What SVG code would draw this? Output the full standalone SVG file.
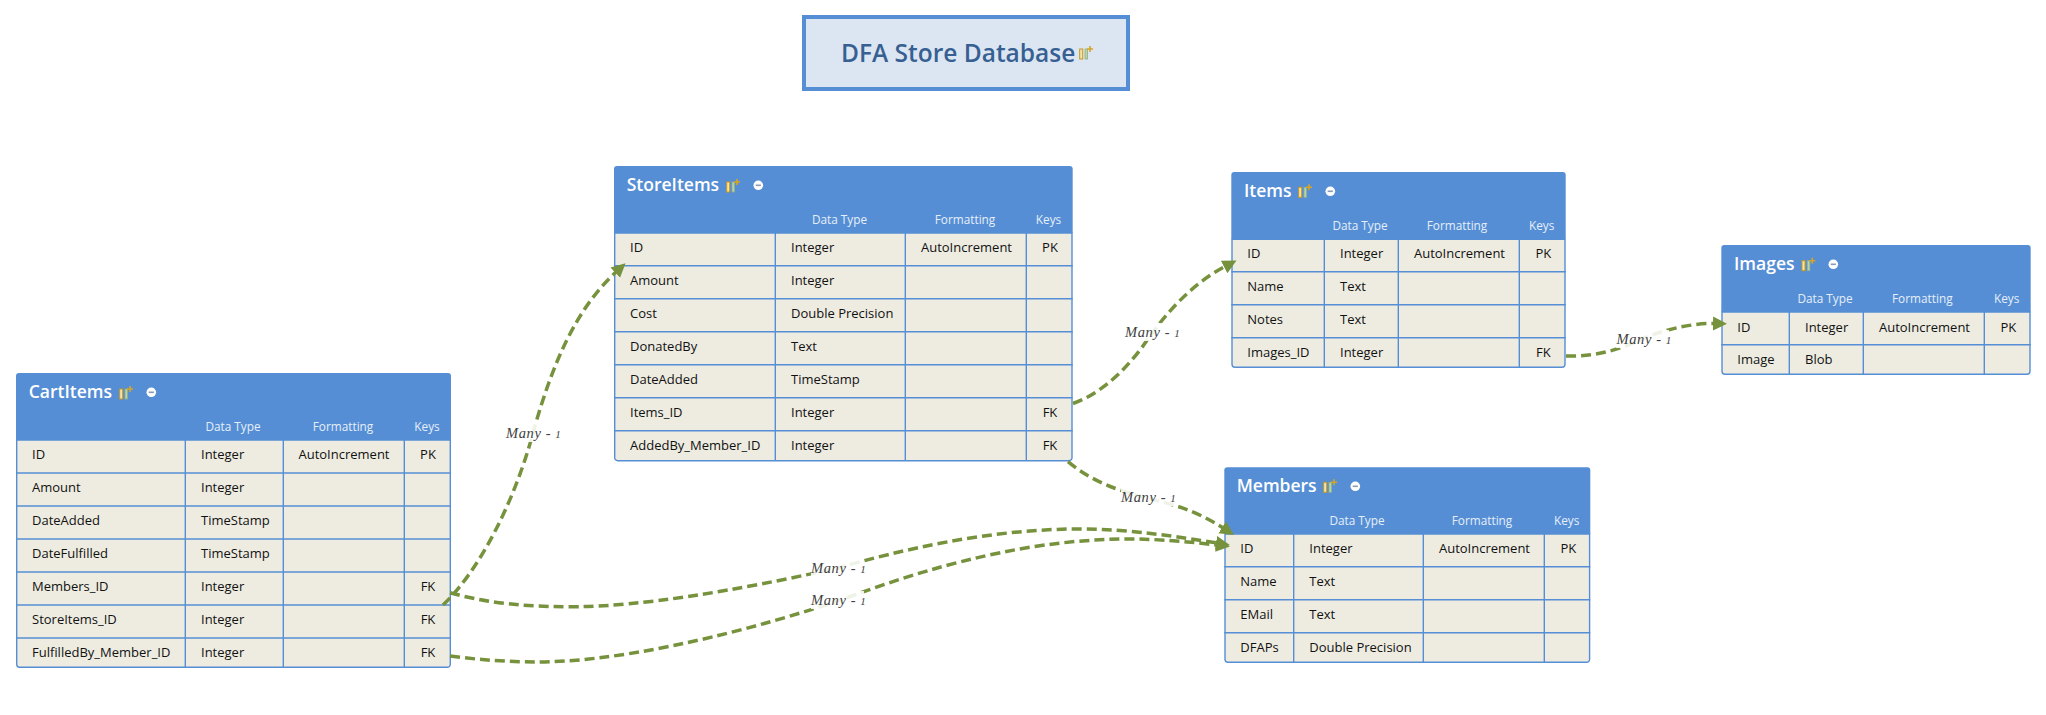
<svg xmlns="http://www.w3.org/2000/svg" width="2046" height="715" viewBox="0 0 2046 715">
<style>
text{font-family:"Open Sans","Noto Sans","Liberation Sans",sans-serif}
.head{fill:#558ed5}
.body{fill:#eeece1;stroke:#558ed5;stroke-width:1.4}
.grid{fill:none;stroke:#558ed5;stroke-width:1.4}
.n{font-size:17.5px;font-weight:600;fill:#fff}
.h{font-size:11.8px;fill:#e6eef8;text-anchor:middle}
.c{font-size:13px;fill:#111}
.m{font-size:13px;fill:#111;text-anchor:middle}
.link{fill:none;stroke:#76923c;stroke-width:3.5;stroke-dasharray:10 5}
.lab{font-family:"Liberation Serif",serif;font-style:italic;font-size:14.5px;fill:#404040;letter-spacing:.6px}
.bg{fill:#fff;fill-opacity:.88}
</style>
<defs>
<marker id="arrow" markerUnits="userSpaceOnUse" markerWidth="15" markerHeight="16" refX="1" refY="7.5" orient="auto"><path d="M0,0.5 L14,7.5 L0,14.5 Z" fill="#76923c"/></marker>
<g id="ico">
<rect x="0.7" y="3" width="3" height="10" fill="#f5e6a8" stroke="#c8961e"/>
<rect x="6" y="3" width="2.6" height="10" fill="#b7d3a8" stroke="#8fb08a" stroke-width=".8"/>
<path d="M11,0 v6 M8,3 h6" stroke="#d9a520" stroke-width="1.6" fill="none"/>
</g>
<g id="min"><circle r="4.8" fill="#fff"/><path d="M-2.6,0 h5.2" stroke="#8a9bb5" stroke-width="1.6"/></g>
</defs>

<g id="title">
<rect x="804" y="17" width="324" height="72" fill="#dce6f2" stroke="#558ed5" stroke-width="4"/>
<text x="841" y="62" font-size="24.5" font-weight="600" fill="#376092">DFA Store Database</text>
<use href="#ico" x="1079" y="46"/>
</g>

<g id="CartItems">
<path class="head" d="M16,440 V376 a3,3 0 0 1 3,-3 H448 a3,3 0 0 1 3,3 V440 Z"/>
<path class="body" d="M16.7,440 H450.3 V664.3 a3,3 0 0 1 -3,3 H19.7 a3,3 0 0 1 -3,-3 Z"/>
<path class="grid" d="M16,473 H451 M16,506 H451 M16,539 H451 M16,572 H451 M16,605 H451 M16,638 H451 M185.3,440 V667 M283.3,440 V667 M404.3,440 V667"/>
<text class="n" x="28.7" y="398">CartItems</text>
<use href="#ico" x="119" y="386"/><use href="#min" x="151.3" y="392.3"/>
<text class="h" x="233" y="431">Data Type</text><text class="h" x="343" y="431">Formatting</text><text class="h" x="427" y="431">Keys</text>
<text class="c" x="32" y="459.3">ID</text><text class="c" x="201" y="459.3">Integer</text><text class="m" x="344" y="459.3">AutoIncrement</text><text class="m" x="428" y="459.3">PK</text>
<text class="c" x="32" y="492.3">Amount</text><text class="c" x="201" y="492.3">Integer</text>
<text class="c" x="32" y="525.3">DateAdded</text><text class="c" x="201" y="525.3">TimeStamp</text>
<text class="c" x="32" y="558.3">DateFulfilled</text><text class="c" x="201" y="558.3">TimeStamp</text>
<text class="c" x="32" y="591.3">Members_ID</text><text class="c" x="201" y="591.3">Integer</text><text class="m" x="428" y="591.3">FK</text>
<text class="c" x="32" y="624.3">StoreItems_ID</text><text class="c" x="201" y="624.3">Integer</text><text class="m" x="428" y="624.3">FK</text>
<text class="c" x="32" y="657.3">FulfilledBy_Member_ID</text><text class="c" x="201" y="657.3">Integer</text><text class="m" x="428" y="657.3">FK</text>
</g>

<g id="StoreItems">
<path class="head" d="M614,233 V169 a3,3 0 0 1 3,-3 H1069.7 a3,3 0 0 1 3,3 V233 Z"/>
<path class="body" d="M614.7,233 H1072 V457.7 a3,3 0 0 1 -3,3 H617.7 a3,3 0 0 1 -3,-3 Z"/>
<path class="grid" d="M614,265.7 H1072.7 M614,298.7 H1072.7 M614,331.7 H1072.7 M614,364.7 H1072.7 M614,397.7 H1072.7 M614,430.7 H1072.7 M775.3,233 V460.7 M905.3,233 V460.7 M1026.3,233 V460.7"/>
<text class="n" x="626.7" y="191.3">StoreItems</text>
<use href="#ico" x="726" y="179"/><use href="#min" x="758.3" y="185.3"/>
<text class="h" x="839.5" y="224.3">Data Type</text><text class="h" x="965" y="224.3">Formatting</text><text class="h" x="1048.5" y="224.3">Keys</text>
<text class="c" x="630" y="252.3">ID</text><text class="c" x="791" y="252.3">Integer</text><text class="m" x="966.5" y="252.3">AutoIncrement</text><text class="m" x="1050" y="252.3">PK</text>
<text class="c" x="630" y="285">Amount</text><text class="c" x="791" y="285">Integer</text>
<text class="c" x="630" y="318">Cost</text><text class="c" x="791" y="318">Double Precision</text>
<text class="c" x="630" y="351">DonatedBy</text><text class="c" x="791" y="351">Text</text>
<text class="c" x="630" y="384">DateAdded</text><text class="c" x="791" y="384">TimeStamp</text>
<text class="c" x="630" y="417">Items_ID</text><text class="c" x="791" y="417">Integer</text><text class="m" x="1050" y="417">FK</text>
<text class="c" x="630" y="450">AddedBy_Member_ID</text><text class="c" x="791" y="450">Integer</text><text class="m" x="1050" y="450">FK</text>
</g>

<g id="Items">
<path class="head" d="M1231.3,239.3 V175 a3,3 0 0 1 3,-3 H1562.7 a3,3 0 0 1 3,3 V239.3 Z"/>
<path class="body" d="M1232,239.3 H1565 V364.3 a3,3 0 0 1 -3,3 H1235 a3,3 0 0 1 -3,-3 Z"/>
<path class="grid" d="M1231.3,271.7 H1565.7 M1231.3,304.7 H1565.7 M1231.3,337.7 H1565.7 M1324.3,239.3 V367.3 M1398.3,239.3 V367.3 M1519.3,239.3 V367.3"/>
<text class="n" x="1244" y="196.7">Items</text>
<use href="#ico" x="1298" y="184.3"/><use href="#min" x="1330.3" y="191.3"/>
<text class="h" x="1360" y="230">Data Type</text><text class="h" x="1457" y="230">Formatting</text><text class="h" x="1541.7" y="230">Keys</text>
<text class="c" x="1247.3" y="258.3">ID</text><text class="c" x="1340" y="258.3">Integer</text><text class="m" x="1459.5" y="258.3">AutoIncrement</text><text class="m" x="1543.3" y="258.3">PK</text>
<text class="c" x="1247.3" y="291">Name</text><text class="c" x="1340" y="291">Text</text>
<text class="c" x="1247.3" y="324">Notes</text><text class="c" x="1340" y="324">Text</text>
<text class="c" x="1247.3" y="357">Images_ID</text><text class="c" x="1340" y="357">Integer</text><text class="m" x="1543.3" y="357">FK</text>
</g>

<g id="Images">
<path class="head" d="M1721.3,312 V248 a3,3 0 0 1 3,-3 H2027.7 a3,3 0 0 1 3,3 V312 Z"/>
<path class="body" d="M1722,312 H2030 V371.3 a3,3 0 0 1 -3,3 H1725 a3,3 0 0 1 -3,-3 Z"/>
<path class="grid" d="M1721.3,344.7 H2030.7 M1789.3,312 V374.3 M1863.3,312 V374.3 M1984.3,312 V374.3"/>
<text class="n" x="1734" y="270">Images</text>
<use href="#ico" x="1801.3" y="257.7"/><use href="#min" x="1833.3" y="264.3"/>
<text class="h" x="1825" y="303.3">Data Type</text><text class="h" x="1922.3" y="303.3">Formatting</text><text class="h" x="2006.7" y="303.3">Keys</text>
<text class="c" x="1737.3" y="331.7">ID</text><text class="c" x="1805" y="331.7">Integer</text><text class="m" x="1924.5" y="331.7">AutoIncrement</text><text class="m" x="2008.3" y="331.7">PK</text>
<text class="c" x="1737.3" y="364">Image</text><text class="c" x="1805" y="364">Blob</text>
</g>

<g id="Members">
<path class="head" d="M1224.3,534 V470.3 a3,3 0 0 1 3,-3 H1587.3 a3,3 0 0 1 3,3 V534 Z"/>
<path class="body" d="M1225,534 H1589.6 V659.3 a3,3 0 0 1 -3,3 H1228 a3,3 0 0 1 -3,-3 Z"/>
<path class="grid" d="M1224.3,566.7 H1590.3 M1224.3,599.7 H1590.3 M1224.3,632.7 H1590.3 M1293.7,534 V662.3 M1423.3,534 V662.3 M1544.3,534 V662.3"/>
<text class="n" x="1236.7" y="491.7">Members</text>
<use href="#ico" x="1323" y="479.3"/><use href="#min" x="1355.3" y="486.3"/>
<text class="h" x="1357" y="525">Data Type</text><text class="h" x="1482" y="525">Formatting</text><text class="h" x="1566.7" y="525">Keys</text>
<text class="c" x="1240.3" y="553.3">ID</text><text class="c" x="1309.3" y="553.3">Integer</text><text class="m" x="1484.5" y="553.3">AutoIncrement</text><text class="m" x="1568.3" y="553.3">PK</text>
<text class="c" x="1240.3" y="586">Name</text><text class="c" x="1309.3" y="586">Text</text>
<text class="c" x="1240.3" y="619">EMail</text><text class="c" x="1309.3" y="619">Text</text>
<text class="c" x="1240.3" y="652">DFAPs</text><text class="c" x="1309.3" y="652">Double Precision</text>
</g>

<g id="connectors">
<path class="link" marker-end="url(#arrow)" d="M443,605 C480,570 515,500 533,433 C552,365 575,310 616,272"/>
<path class="link" marker-end="url(#arrow)" d="M450,592.7 C490,604 530,607 578,606.7 C640,606 730,592 838,568 C900,550 990,529 1078,529 C1130,529 1180,537 1217,543"/>
<path class="link" marker-end="url(#arrow)" d="M450,656 C480,660 510,662 537,662 C610,662 720,640 838,601 C900,578 1010,539 1129,539 C1160,539 1190,542 1217,545"/>
<path class="link" marker-end="url(#arrow)" d="M1068,461.7 C1090,480 1115,490 1147,498 C1175,505 1195,510 1223,528"/>
<path class="link" marker-end="url(#arrow)" d="M1073,403.5 C1105,392 1130,365 1148,339 C1165,315 1190,285 1225,266.5"/>
<path class="link" marker-end="url(#arrow)" d="M1566,356 C1600,357 1625,347 1642,339 C1660,331 1690,323 1714,323.5"/>
<g>
<rect class="bg" x="506" y="424" width="53" height="18"/><text class="lab" x="506" y="438">Many - <tspan font-size="11">1</tspan></text>
<rect class="bg" x="811" y="559" width="53" height="18"/><text class="lab" x="811" y="573">Many - <tspan font-size="11">1</tspan></text>
<rect class="bg" x="811" y="591" width="53" height="18"/><text class="lab" x="811" y="605">Many - <tspan font-size="11">1</tspan></text>
<rect class="bg" x="1121" y="488" width="53" height="18"/><text class="lab" x="1121" y="502.3">Many - <tspan font-size="11">1</tspan></text>
<rect class="bg" x="1125" y="323" width="53" height="18"/><text class="lab" x="1125" y="337">Many - <tspan font-size="11">1</tspan></text>
<rect class="bg" x="1616" y="330" width="53" height="18"/><text class="lab" x="1616.5" y="344">Many - <tspan font-size="11">1</tspan></text>
</g>
</g>
</svg>
